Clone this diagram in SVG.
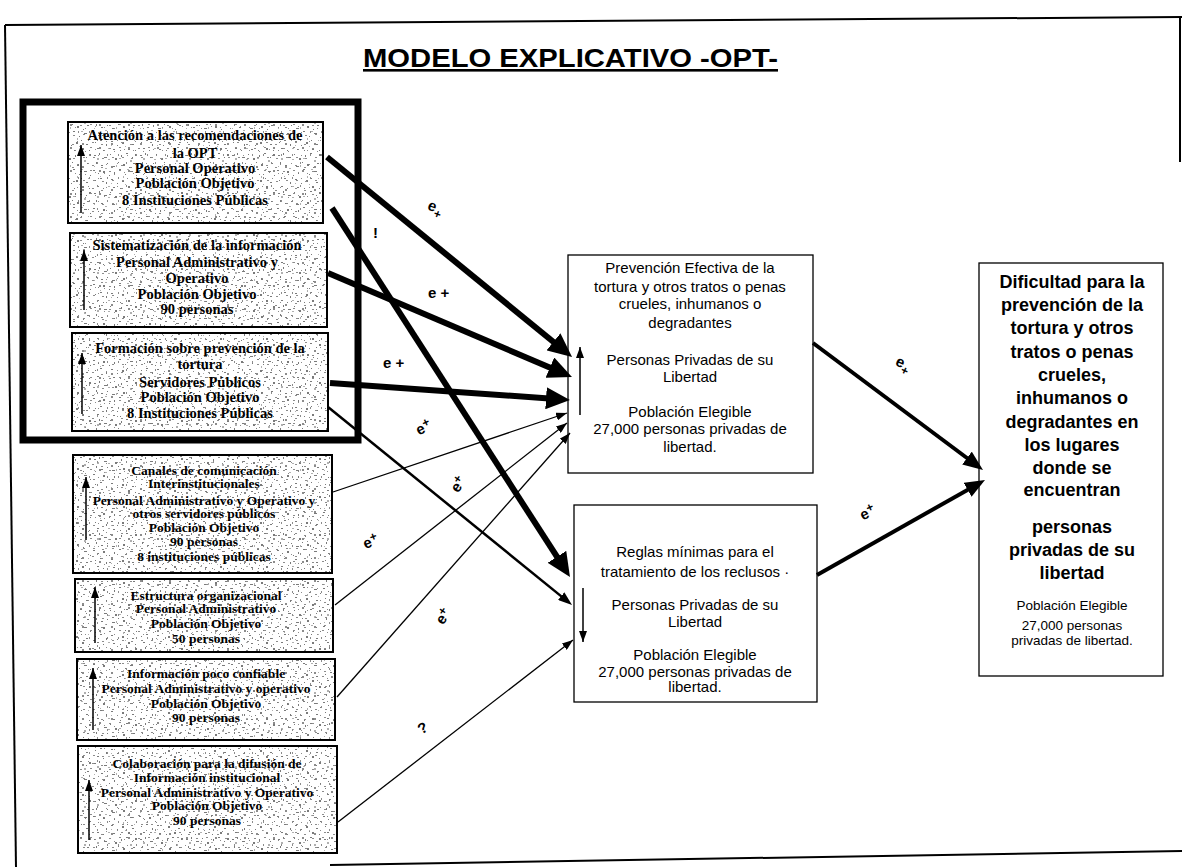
<svg xmlns="http://www.w3.org/2000/svg" width="1182" height="867" viewBox="0 0 1182 867">
<defs>
<pattern id="grain" width="46" height="38" patternUnits="userSpaceOnUse">
<rect width="46" height="38" fill="#fff"/>
<g fill="#7a7a7a">
<rect x="2" y="3" width="2" height="1"/><rect x="7" y="1" width="1" height="2"/><rect x="12" y="5" width="3" height="1"/>
<rect x="18" y="2" width="1" height="1"/><rect x="23" y="6" width="2" height="2"/><rect x="29" y="3" width="1" height="2"/>
<rect x="34" y="1" width="2" height="1"/><rect x="40" y="5" width="1" height="1"/><rect x="43" y="2" width="2" height="2"/>
<rect x="4" y="10" width="1" height="2"/><rect x="9" y="13" width="2" height="1"/><rect x="15" y="11" width="1" height="1"/>
<rect x="20" y="14" width="3" height="1"/><rect x="26" y="10" width="1" height="1"/><rect x="31" y="12" width="2" height="2"/>
<rect x="37" y="15" width="1" height="1"/><rect x="41" y="11" width="2" height="1"/><rect x="1" y="18" width="2" height="1"/>
<rect x="6" y="21" width="1" height="1"/><rect x="11" y="19" width="2" height="2"/><rect x="17" y="23" width="1" height="1"/>
<rect x="22" y="20" width="1" height="2"/><rect x="27" y="17" width="2" height="1"/><rect x="33" y="22" width="1" height="1"/>
<rect x="38" y="19" width="3" height="1"/><rect x="44" y="23" width="1" height="1"/><rect x="3" y="28" width="1" height="1"/>
<rect x="8" y="26" width="2" height="1"/><rect x="14" y="30" width="1" height="2"/><rect x="19" y="27" width="2" height="1"/>
<rect x="25" y="31" width="1" height="1"/><rect x="30" y="28" width="2" height="2"/><rect x="35" y="26" width="1" height="1"/>
<rect x="40" y="30" width="2" height="1"/><rect x="5" y="34" width="2" height="1"/><rect x="11" y="36" width="1" height="1"/>
<rect x="21" y="35" width="2" height="1"/><rect x="28" y="36" width="1" height="1"/><rect x="36" y="34" width="2" height="2"/>
<rect x="43" y="36" width="1" height="1"/>
</g>
<g fill="#b0b0b0">
<rect x="5" y="6" width="2" height="2"/><rect x="16" y="7" width="2" height="1"/><rect x="27" y="6" width="2" height="1"/>
<rect x="38" y="8" width="2" height="2"/><rect x="2" y="14" width="1" height="1"/><rect x="13" y="16" width="2" height="1"/>
<rect x="24" y="13" width="1" height="2"/><rect x="35" y="17" width="2" height="1"/><rect x="8" y="24" width="1" height="1"/>
<rect x="19" y="31" width="1" height="1"/><rect x="31" y="24" width="1" height="2"/><rect x="42" y="26" width="1" height="1"/>
<rect x="16" y="34" width="2" height="1"/><rect x="33" y="32" width="1" height="1"/>
</g>
</pattern>
<pattern id="grain2" width="29" height="23" patternUnits="userSpaceOnUse">
<g fill="#8c8c8c">
<rect x="1" y="2" width="1" height="1"/><rect x="5" y="4" width="2" height="1"/><rect x="10" y="1" width="1" height="2"/>
<rect x="14" y="6" width="2" height="1"/><rect x="19" y="3" width="1" height="1"/><rect x="24" y="5" width="2" height="2"/>
<rect x="3" y="9" width="2" height="1"/><rect x="8" y="11" width="1" height="1"/><rect x="12" y="9" width="2" height="2"/>
<rect x="17" y="12" width="1" height="1"/><rect x="22" y="10" width="2" height="1"/><rect x="27" y="13" width="1" height="1"/>
<rect x="2" y="16" width="1" height="2"/><rect x="6" y="19" width="2" height="1"/><rect x="11" y="17" width="1" height="1"/>
<rect x="15" y="20" width="2" height="1"/><rect x="20" y="16" width="1" height="2"/><rect x="25" y="19" width="2" height="1"/>
</g>
</pattern>
<marker id="hThick" markerUnits="userSpaceOnUse" markerWidth="24" markerHeight="22" refX="10" refY="11" orient="auto">
<path d="M0,0 L24,11 L0,22 Z" fill="#000"/>
</marker>
<marker id="hMid" markerUnits="userSpaceOnUse" markerWidth="20" markerHeight="16" refX="10" refY="8" orient="auto">
<path d="M0,0 L20,8 L0,16 Z" fill="#000"/>
</marker>
<marker id="hSmall" markerUnits="userSpaceOnUse" markerWidth="14" markerHeight="10" refX="7" refY="5" orient="auto">
<path d="M0,0 L14,5 L0,10 Z" fill="#000"/>
</marker>
<marker id="hThin" markerUnits="userSpaceOnUse" markerWidth="11" markerHeight="8" refX="11" refY="4" orient="auto">
<path d="M0,0 L11,4 L0,8 Z" fill="#000"/>
</marker>
<marker id="hUp" markerUnits="userSpaceOnUse" markerWidth="11" markerHeight="8" refX="11" refY="4" orient="auto">
<path d="M0,0 L11,4 L0,8 Z" fill="#000"/>
</marker>
</defs>
<style>
.frame{fill:none;stroke:#000;stroke-width:2}
.lbox{fill:url(#grain);stroke:none}
.lbox2{fill:url(#grain2);stroke:#000;stroke-width:2}
.lt{font-family:"Liberation Serif","Times New Roman",serif;font-weight:bold;font-size:14.5px;fill:#000;text-anchor:middle}
.lt2{font-family:"Liberation Serif","Times New Roman",serif;font-weight:bold;font-size:13.5px;fill:#000;text-anchor:middle}
.cbox{fill:#fff;stroke:#000;stroke-width:1.3}
.ct{font-family:"Liberation Sans",Arial,sans-serif;font-size:15px;fill:#000;text-anchor:middle}
.rt{font-family:"Liberation Sans",Arial,sans-serif;font-weight:bold;font-size:18px;fill:#000;text-anchor:middle}
.rs{font-family:"Liberation Sans",Arial,sans-serif;font-size:13.5px;fill:#000;text-anchor:middle}
.inarrow{stroke:#000;stroke-width:1.5;fill:none}
.thick{stroke:#000;stroke-width:6;fill:none}
.rthick{stroke:#000;stroke-width:4;fill:none}
.mid{stroke:#000;stroke-width:2.5;fill:none}
.thin{stroke:#000;stroke-width:1.3;fill:none}
.lab{font-family:"Liberation Sans",Arial,sans-serif;font-weight:bold;font-size:15px;fill:#000}
.title{font-family:"Liberation Sans",Arial,sans-serif;font-weight:bold;font-size:26px;fill:#000;text-decoration:underline}
</style>
<rect width="1182" height="867" fill="#fff"/>

<g id="page-frame">
<path class="frame" d="M5,25 L1182,17"/>
<path class="frame" d="M5,25 L16,867"/>
<path class="frame" d="M1180,17 L1180,162"/>
<path class="frame" d="M330,865 L1182,851"/>
</g>

<g id="title">
<text class="title" x="363" y="67" textLength="415" lengthAdjust="spacingAndGlyphs">MODELO EXPLICATIVO -OPT-</text>
</g>

<g id="group-frame">
<rect x="23" y="102" width="335" height="338" fill="none" stroke="#000" stroke-width="7"/>
</g>

<g id="node-atencion">
<rect class="lbox" x="68" y="122" width="255" height="101"/>
<rect class="lbox2" x="68" y="122" width="255" height="101"/>
<line class="inarrow" x1="81" y1="213" x2="81" y2="145" marker-end="url(#hUp)"/>
<text class="lt" x="195" y="140">Atención a las recomendaciones de</text>
<text class="lt" x="195" y="158">la OPT</text>
<text class="lt" x="195" y="173">Personal Operativo</text>
<text class="lt" x="195" y="188">Población Objetivo</text>
<text class="lt" x="195" y="205">8 Instituciones Públicas</text>
</g>

<g id="node-sistematizacion">
<rect class="lbox" x="70" y="233" width="257" height="94"/>
<rect class="lbox2" x="70" y="233" width="257" height="94"/>
<line class="inarrow" x1="84" y1="310" x2="84" y2="250" marker-end="url(#hUp)"/>
<text class="lt" x="197" y="250">Sistematización de la información</text>
<text class="lt" x="197" y="267">Personal Administrativo y</text>
<text class="lt" x="197" y="283">Operativo</text>
<text class="lt" x="197" y="299">Población Objetivo</text>
<text class="lt" x="197" y="314">90 personas</text>
</g>

<g id="node-formacion">
<rect class="lbox" x="72" y="333" width="256" height="98"/>
<rect class="lbox2" x="72" y="333" width="256" height="98"/>
<line class="inarrow" x1="82" y1="414" x2="82" y2="353" marker-end="url(#hUp)"/>
<text class="lt" x="200" y="353">Formación sobre prevención de la</text>
<text class="lt" x="200" y="369">tortura</text>
<text class="lt" x="200" y="387">Servidores Públicos</text>
<text class="lt" x="200" y="402">Población Objetivo</text>
<text class="lt" x="200" y="418">8 Instituciones Públicas</text>
</g>

<g id="node-canales">
<rect class="lbox" x="73" y="455" width="259" height="118"/>
<rect class="lbox2" x="73" y="455" width="259" height="118"/>
<line class="inarrow" x1="86" y1="540" x2="86" y2="477" marker-end="url(#hUp)"/>
<text class="lt2" x="204" y="475">Canales de comunicación</text>
<text class="lt2" x="204" y="488">Interinstitucionales</text>
<text class="lt2" x="204" y="505">Personal Administrativo y Operativo y</text>
<text class="lt2" x="204" y="518">otros servidores públicos</text>
<text class="lt2" x="204" y="532">Población Objetivo</text>
<text class="lt2" x="204" y="546">90 personas</text>
<text class="lt2" x="204" y="561">8 instituciones públicas</text>
</g>

<g id="node-estructura">
<rect class="lbox" x="75" y="579" width="258" height="73"/>
<rect class="lbox2" x="75" y="579" width="258" height="73"/>
<line class="inarrow" x1="95" y1="643" x2="95" y2="587" marker-end="url(#hUp)"/>
<text class="lt2" x="206" y="600">Estructura organizacional</text>
<text class="lt2" x="206" y="613">Personal Administrativo</text>
<text class="lt2" x="206" y="628">Población Objetivo</text>
<text class="lt2" x="206" y="643">50 personas</text>
</g>

<g id="node-informacion">
<rect class="lbox" x="77" y="659" width="258" height="81"/>
<rect class="lbox2" x="77" y="659" width="258" height="81"/>
<line class="inarrow" x1="93" y1="730" x2="93" y2="668" marker-end="url(#hUp)"/>
<text class="lt2" x="206" y="678">Información poco confiable</text>
<text class="lt2" x="206" y="693">Personal Administrativo y operativo</text>
<text class="lt2" x="206" y="708">Población Objetivo</text>
<text class="lt2" x="206" y="722">90 personas</text>
</g>

<g id="node-colaboracion">
<rect class="lbox" x="78" y="746" width="259" height="107"/>
<rect class="lbox2" x="78" y="746" width="259" height="107"/>
<line class="inarrow" x1="89" y1="840" x2="89" y2="780" marker-end="url(#hUp)"/>
<text class="lt2" x="207" y="768">Colaboración para la difusión de</text>
<text class="lt2" x="207" y="782">Información institucional</text>
<text class="lt2" x="207" y="797">Personal Administrativo y Operativo</text>
<text class="lt2" x="207" y="810">Población Objetivo</text>
<text class="lt2" x="207" y="825">90 personas</text>
</g>

<g id="node-prevencion">
<rect class="cbox" x="568" y="255" width="245" height="218"/>
<line class="inarrow" x1="580" y1="415" x2="580" y2="347" marker-end="url(#hUp)"/>
<text class="ct" x="690" y="273">Prevención Efectiva de la</text>
<text class="ct" x="690" y="292">tortura y otros tratos o penas</text>
<text class="ct" x="690" y="309">crueles, inhumanos o</text>
<text class="ct" x="690" y="328">degradantes</text>
<text class="ct" x="690" y="365">Personas Privadas de su</text>
<text class="ct" x="690" y="382">Libertad</text>
<text class="ct" x="690" y="417">Población Elegible</text>
<text class="ct" x="690" y="434">27,000 personas privadas de</text>
<text class="ct" x="690" y="452">libertad.</text>
</g>

<g id="node-reglas">
<rect class="cbox" x="574" y="505" width="243" height="197"/>
<line class="inarrow" x1="583" y1="588" x2="583" y2="642" marker-end="url(#hUp)"/>
<text class="ct" x="695" y="557">Reglas mínimas para el</text>
<text class="ct" x="695" y="577">tratamiento de los reclusos ·</text>
<text class="ct" x="695" y="610">Personas Privadas de su</text>
<text class="ct" x="695" y="627">Libertad</text>
<text class="ct" x="695" y="660">Población Elegible</text>
<text class="ct" x="695" y="677">27,000 personas privadas de</text>
<text class="ct" x="695" y="692">libertad.</text>
</g>

<g id="node-dificultad">
<rect class="cbox" x="979" y="263" width="184" height="413"/>
<text class="rt" x="1072" y="288">Dificultad para la</text>
<text class="rt" x="1072" y="311">prevención de la</text>
<text class="rt" x="1072" y="334">tortura y otros</text>
<text class="rt" x="1072" y="358">tratos o penas</text>
<text class="rt" x="1072" y="381">crueles,</text>
<text class="rt" x="1072" y="404">inhumanos o</text>
<text class="rt" x="1072" y="428">degradantes en</text>
<text class="rt" x="1072" y="451">los lugares</text>
<text class="rt" x="1072" y="474">donde se</text>
<text class="rt" x="1072" y="496">encuentran</text>
<text class="rt" x="1072" y="533">personas</text>
<text class="rt" x="1072" y="556">privadas de su</text>
<text class="rt" x="1072" y="579">libertad</text>
<text class="rs" x="1072" y="610">Población Elegible</text>
<text class="rs" x="1072" y="630">27,000 personas</text>
<text class="rs" x="1072" y="645">privadas de libertad.</text>
</g>

<g id="connectors">
<line class="thick" x1="327" y1="157" x2="561.2" y2="348.2" marker-end="url(#hThick)"/>
<line class="thick" x1="328" y1="273" x2="559.1" y2="371.5" marker-end="url(#hThick)"/>
<line class="thick" x1="330" y1="383" x2="556" y2="399" marker-end="url(#hThick)"/>
<line class="thick" x1="332" y1="208" x2="562.4" y2="565.2" marker-end="url(#hThick)"/>
<line class="mid" x1="328" y1="407" x2="566.6" y2="600.6" marker-end="url(#hSmall)"/>
<line class="thin" x1="333" y1="492" x2="567" y2="413" marker-end="url(#hThin)"/>
<line class="thin" x1="335" y1="605" x2="567" y2="423" marker-end="url(#hThin)"/>
<line class="thin" x1="337" y1="697" x2="570" y2="433" marker-end="url(#hThin)"/>
<line class="thin" x1="338" y1="822" x2="573" y2="640" marker-end="url(#hThin)"/>
<line class="rthick" x1="813" y1="343" x2="975" y2="464" marker-end="url(#hMid)"/>
<line class="rthick" x1="817" y1="575" x2="976.3" y2="484.9" marker-end="url(#hMid)"/>
</g>

<g id="labels">
<text class="lab" x="428" y="212" transform="rotate(20 435 207)">e<tspan font-size="12" dy="5">+</tspan></text>
<text class="lab" x="373" y="238">!</text>
<text class="lab" x="428" y="298">e +</text>
<text class="lab" x="383" y="368">e +</text>
<text class="lab" x="416" y="433" transform="rotate(-25 423 428)">e<tspan font-size="12" dy="-5">+</tspan></text>
<text class="lab" x="451" y="490" transform="rotate(-55 458 485)">e<tspan font-size="12" dy="-5">+</tspan></text>
<text class="lab" x="363" y="547" transform="rotate(-20 370 542)">e<tspan font-size="12" dy="-5">+</tspan></text>
<text class="lab" x="436" y="622" transform="rotate(-55 443 617)">e<tspan font-size="12" dy="-5">+</tspan></text>
<text class="lab" x="418" y="733" transform="rotate(-30 423 728)">?</text>
<text class="lab" x="895" y="368" transform="rotate(25 902 365)">e<tspan font-size="12" dy="5">+</tspan></text>
<text class="lab" x="860" y="518" transform="rotate(-25 867 513)">e<tspan font-size="12" dy="-5">+</tspan></text>
</g>
</svg>
